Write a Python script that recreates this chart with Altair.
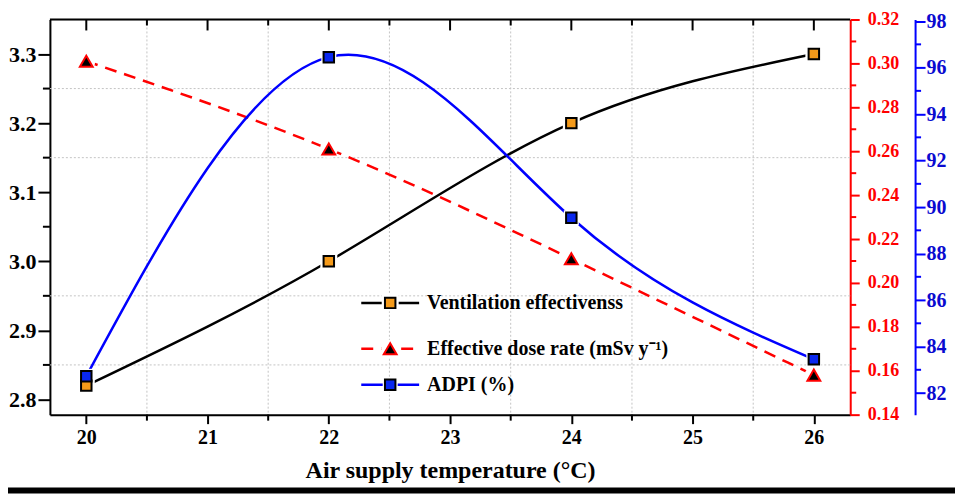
import altair as alt
import pandas as pd

# ---------------- data ----------------
temps = [20, 22, 24, 26]
vent_eff = [2.82, 3.00, 3.20, 3.30]
dose_rate = [0.301, 0.261, 0.211, 0.158]
adpi = [82.72, 96.45, 89.54, 83.45]

x_ticks = [20, 21, 22, 23, 24, 25, 26]
x_minor = [20.5, 21.5, 22.5, 23.5, 24.5, 25.5]
left_ticks = [2.8, 2.9, 3.0, 3.1, 3.2, 3.3]
left_minor = [2.85, 2.95, 3.05, 3.15, 3.25]
left_grid = [2.85, 2.95, 3.15, 3.25]
red_ticks = [0.14, 0.16, 0.18, 0.20, 0.22, 0.24, 0.26, 0.28, 0.30, 0.32]
red_minor = [0.15, 0.17, 0.19, 0.21, 0.23, 0.25, 0.27, 0.29, 0.31]
blue_ticks = [82, 84, 86, 88, 90, 92, 94, 96, 98]
blue_minor = [83, 85, 87, 89, 91, 93, 95, 97]

legend_labels = ["Ventilation effectivenss", "Effective dose rate (mSv y\u207b\u00b9)", "ADPI (%)"]
x_title = "Air supply temperature (\u00b0C)"

# ---------------- layout / style ----------------
W, H = 802, 396
FONT = "Liberation Serif"
RED = "#ff0000"
BLUE = "#0000ff"
ORANGE = "#f49a1a"
BLUE_FILL = "#0a28f0"
GRID = "#c4c4c4"

X_SCALE = alt.Scale(domain=[19.7, 26.3], nice=False, zero=False)
L_SCALE = alt.Scale(domain=[2.778, 3.35], nice=False, zero=False)
R_SCALE = alt.Scale(domain=[0.14, 0.32], nice=False, zero=False)
B_SCALE = alt.Scale(domain=[81.07, 98.07], nice=False, zero=False)

base = pd.DataFrame({"x": temps, "vent": vent_eff, "dose": dose_rate, "adpi": adpi})
one = pd.DataFrame({"k": [0]})

x_axis = alt.Axis(values=x_ticks, format="d", tickSize=9, tickWidth=2, tickColor="black",
                  domainColor="black", domainWidth=2, labelFont=FONT, labelFontSize=20,
                  labelFontWeight="bold", labelColor="black", labelPadding=4, labelFlush=False,
                  labelOverlap=False, title=x_title, titleFont=FONT, titleFontSize=24,
                  titleFontWeight="bold", titleColor="black", titlePadding=11, grid=False)
left_axis = alt.Axis(orient="left", values=left_ticks, format=".1f", tickSize=12, tickWidth=2,
                     tickColor="black", domainColor="black", domainWidth=2, labelFont=FONT,
                     labelFontSize=22, labelFontWeight="bold", labelColor="black", labelPadding=2,
                     labelOverlap=False, title=None, grid=False)
red_axis = alt.Axis(orient="right", values=red_ticks, format=".2f", tickSize=9, tickWidth=2,
                    tickColor=RED, domainColor=RED, domainWidth=2, labelFont=FONT,
                    labelFontSize=18, labelFontWeight="bold", labelColor=RED, labelPadding=8,
                    labelOverlap=False, title=None, grid=False)
blue_axis = alt.Axis(orient="right", offset=65, values=blue_ticks, format="d", tickSize=10,
                     tickWidth=2, tickColor=BLUE, domainColor=BLUE, domainWidth=2, labelFont=FONT,
                     labelFontSize=20, labelFontWeight="bold", labelColor="#0a0ad0", labelPadding=1,
                     labelOverlap=False, title=None, grid=False)


def X():
    return alt.X("x:Q", scale=X_SCALE, axis=x_axis)


def YL(f):
    return alt.Y(f, type="quantitative", scale=L_SCALE, axis=left_axis)


def YR(f):
    return alt.Y(f, type="quantitative", scale=R_SCALE, axis=red_axis)


def YB(f):
    return alt.Y(f, type="quantitative", scale=B_SCALE, axis=blue_axis)


def Ynone(f, sc):
    return alt.Y(f, type="quantitative", scale=sc, axis=None)


# ---------------- left-scale group (frame, grid, ventilation line) ----------------
vgrid = alt.Chart(pd.DataFrame({"x": x_minor})).mark_rule(
    color=GRID, strokeDash=[2, 2], strokeWidth=1).encode(x=X(), y=alt.value(0), y2=alt.value(H))
hgrid = alt.Chart(pd.DataFrame({"v": left_grid})).mark_rule(
    color=GRID, strokeDash=[2, 2], strokeWidth=1).encode(
    y=YL("v"), x=alt.value(0), x2=alt.value(W))
top_border = alt.Chart(one).mark_rule(color="black", strokeWidth=2).encode(
    x=alt.value(0), x2=alt.value(W), y=alt.value(0))
top_major = alt.Chart(pd.DataFrame({"x": x_ticks})).mark_rule(color="black", strokeWidth=2).encode(
    x=X(), y=alt.value(0), y2=alt.value(11))
top_minor = alt.Chart(pd.DataFrame({"x": x_minor})).mark_rule(color="black", strokeWidth=2).encode(
    x=X(), y=alt.value(0), y2=alt.value(6))
bottom_minor = alt.Chart(pd.DataFrame({"x": x_minor})).mark_rule(color="black", strokeWidth=2).encode(
    x=X(), y=alt.value(H), y2=alt.value(H + 6))
left_minor_t = alt.Chart(pd.DataFrame({"v": left_minor})).mark_rule(color="black", strokeWidth=2).encode(
    y=YL("v"), x=alt.value(-7), x2=alt.value(0))
vent_line = alt.Chart(base).mark_line(interpolate="natural", color="black", strokeWidth=2.5).encode(
    x=X(), y=YL("vent"))
A_main = alt.layer(vgrid, hgrid, top_border, top_major, top_minor, bottom_minor, left_minor_t, vent_line)

# ---------------- red group ----------------
red_minor_t = alt.Chart(pd.DataFrame({"v": red_minor})).mark_rule(color=RED, strokeWidth=2).encode(
    y=YR("v"), x=alt.value(W), x2=alt.value(W + 6))
red_line = alt.Chart(base).mark_line(interpolate="natural", color=RED, strokeWidth=2.5,
                                     strokeDash=[12, 8]).encode(x=X(), y=YR("dose"))
R_main = alt.layer(red_minor_t, red_line)

# ---------------- blue group ----------------
blue_minor_t = alt.Chart(pd.DataFrame({"v": blue_minor})).mark_rule(color=BLUE, strokeWidth=2).encode(
    y=YB("v"), x=alt.value(W + 65), x2=alt.value(W + 71))
blue_line = alt.Chart(base).mark_line(interpolate="natural", color=BLUE, strokeWidth=2.5).encode(
    x=X(), y=YB("adpi"))
B_main = alt.layer(blue_minor_t, blue_line)

# ---------------- gaps and markers ----------------
A_gap = alt.Chart(base).mark_square(size=289, color="white", opacity=1).encode(
    x=X(), y=Ynone("vent", L_SCALE))
R_gap = alt.Chart(base).mark_circle(size=330, color="white", opacity=1).encode(
    x=X(), y=Ynone("dose", R_SCALE))
B_gap = alt.Chart(base).mark_square(size=225, color="white", opacity=1).encode(
    x=X(), y=Ynone("adpi", B_SCALE))
A_pts = alt.Chart(base).mark_square(size=110, fill=ORANGE, stroke="black", strokeWidth=2,
                                    opacity=1).encode(x=X(), y=Ynone("vent", L_SCALE))
R_pts = alt.Chart(base).mark_point(shape="triangle-up", size=165, filled=True, fill="black",
                                   stroke=RED, strokeWidth=2, opacity=1).encode(
    x=X(), y=Ynone("dose", R_SCALE))
B_pts = alt.Chart(base).mark_square(size=110, fill=BLUE_FILL, stroke="black", strokeWidth=2,
                                    opacity=1).encode(x=X(), y=Ynone("adpi", B_SCALE))

# ---------------- legend ----------------
LX0, LX1, LXM, LXT = 312, 370, 341, 378
LY = [284, 330, 366]
leg = []
leg.append(alt.Chart(one).mark_rule(color="black", strokeWidth=2.5).encode(
    x=alt.value(LX0), x2=alt.value(LX1), y=alt.value(LY[0])))
leg.append(alt.Chart(one).mark_rule(color=RED, strokeWidth=2.5, strokeDash=[12, 8]).encode(
    x=alt.value(LX0), x2=alt.value(LX1), y=alt.value(LY[1])))
leg.append(alt.Chart(one).mark_rule(color=BLUE, strokeWidth=2.5).encode(
    x=alt.value(LX0), x2=alt.value(LX1), y=alt.value(LY[2])))
leg.append(alt.Chart(one).mark_square(size=289, color="white", opacity=1).encode(
    x=alt.value(LXM), y=alt.value(LY[0])))
leg.append(alt.Chart(one).mark_circle(size=330, color="white", opacity=1).encode(
    x=alt.value(LXM), y=alt.value(LY[1])))
leg.append(alt.Chart(one).mark_square(size=225, color="white", opacity=1).encode(
    x=alt.value(LXM), y=alt.value(LY[2])))
leg.append(alt.Chart(one).mark_square(size=110, fill=ORANGE, stroke="black", strokeWidth=2,
                                      opacity=1).encode(x=alt.value(LXM), y=alt.value(LY[0])))
leg.append(alt.Chart(one).mark_point(shape="triangle-up", size=165, filled=True, fill="black",
                                     stroke=RED, strokeWidth=2, opacity=1).encode(
    x=alt.value(LXM), y=alt.value(LY[1])))
leg.append(alt.Chart(one).mark_square(size=110, fill=BLUE_FILL, stroke="black", strokeWidth=2,
                                      opacity=1).encode(x=alt.value(LXM), y=alt.value(LY[2])))
for i, lab in enumerate(legend_labels):
    leg.append(alt.Chart(one).mark_text(font=FONT, fontSize=20, fontWeight="bold", color="black",
                                        align="left", baseline="middle").encode(
        x=alt.value(LXT), y=alt.value(LY[i]), text=alt.value(lab)))
legend = alt.layer(*leg)

# bottom dark band of the original picture
band = alt.Chart(one).mark_rect(color="black").encode(
    x=alt.value(-42), x2=alt.value(W + 105), y=alt.value(H + 73), y2=alt.value(H + 79))

chart = alt.layer(
    A_main, R_main, B_main, A_gap, R_gap, B_gap, A_pts, R_pts, B_pts, legend, band
).resolve_scale(y="independent").properties(
    width=W, height=H,
    autosize=alt.AutoSizeParams(type="none"),
    padding={"left": 42, "top": 11, "right": 105, "bottom": 79},
).configure_view(stroke=None).configure(background="white")

chart.save("out.html", embed_options={"renderer": "svg", "actions": False})
